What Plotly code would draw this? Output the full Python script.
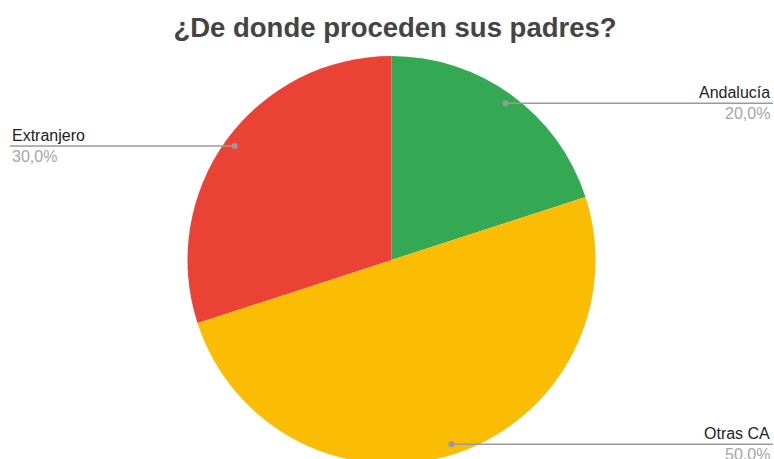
import math
import plotly.graph_objects as go

labels = ["Andalucía", "Otras CA", "Extranjero"]
values = [20, 50, 30]
pct_text = ["20,0%", "50,0%", "30,0%"]
colors = ["#34A853", "#FBBC04", "#EA4335"]
title = "¿De donde proceden sus padres?"

W, H = 774, 464
CX, CY = 391.5, 260
R = 204
dom_h = 2 * R / H
dom_w = 0.32

def px(x):
    return x / W

def py(y):
    return 1 - y / H

fig = go.Figure(go.Pie(
    labels=labels, values=values, sort=False, direction="clockwise", rotation=0,
    marker=dict(colors=colors, line=dict(width=0)),
    textinfo="none", hoverinfo="label+percent", showlegend=False,
    domain=dict(x=[CX / W - dom_w, CX / W + dom_w], y=[0, dom_h]),
))

shapes = []
annotations = []
total = sum(values)
cum = 0
for lab, v, pt in zip(labels, values, pct_text):
    f = (cum + v / 2) / total
    cum += v
    th = 2 * math.pi * f
    r = 0.95 * R
    dx = CX + math.sin(th) * r
    dy = CY - math.cos(th) * r
    if math.sin(th) >= 0:
        x0, x1, tx, anchor = dx, 773, 772, "right"
    else:
        x0, x1, tx, anchor = 10, dx, 10, "left"
    shapes.append(dict(type="line", xref="paper", yref="paper",
                       x0=px(x0), x1=px(x1), y0=py(dy), y1=py(dy),
                       line=dict(color="#9a9a9a", width=1.5)))
    shapes.append(dict(type="circle", xref="paper", yref="paper",
                       x0=px(dx - 3), x1=px(dx + 3), y0=py(dy - 3), y1=py(dy + 3),
                       fillcolor="#9a9a9a", line=dict(width=0)))
    annotations.append(dict(text=lab, xref="paper", yref="paper", x=px(tx), y=py(dy),
                            xanchor=anchor, yanchor="bottom", showarrow=False,
                            font=dict(size=16, color="#222222")))
    annotations.append(dict(text=pt, xref="paper", yref="paper", x=px(tx), y=py(dy),
                            xanchor=anchor, yanchor="top", showarrow=False,
                            font=dict(size=16, color="#a6a6a6")))

fig.update_layout(
    width=W, height=H,
    margin=dict(l=0, r=0, t=0, b=0),
    paper_bgcolor="white", plot_bgcolor="white",
    font=dict(family="Liberation Sans, Arial, sans-serif"),
    title=dict(text="<b>" + title + "</b>", x=395 / W, xanchor="center",
               y=py(27), yanchor="middle",
               font=dict(size=27.5, color="#444444", family="Liberation Sans, Arial, sans-serif")),
    shapes=shapes, annotations=annotations,
)

fig.write_html("out.html", config={"displayModeBar": False},
               post_script="document.body.style.margin='0';document.body.style.overflow='hidden';")
